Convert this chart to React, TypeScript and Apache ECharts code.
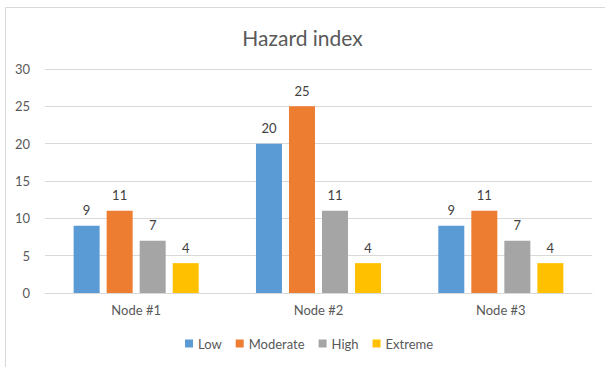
import React, { useEffect, useRef } from "react";
import * as echarts from "echarts";

const categories = ["Node #1", "Node #2", "Node #3"];
const seriesNames = ["Low", "Moderate", "High", "Extreme"];
const lowValues = [9, 20, 9];
const moderateValues = [11, 25, 11];
const highValues = [7, 11, 7];
const extremeValues = [4, 4, 4];
const colors = ["#5B9BD5", "#ED7D31", "#A5A5A5", "#FFC000"];
const yTicks = { min: 0, max: 30, interval: 5 };

export default function App() {
  const ref = useRef<HTMLDivElement>(null);
  useEffect(() => {
    if (!ref.current) return;
    const chart = echarts.init(ref.current, null, { renderer: "svg" });
    const values = [lowValues, moderateValues, highValues, extremeValues];
    const font = "Lato, 'Open Sans', sans-serif";
    chart.setOption({
      animation: false,
      backgroundColor: "#ffffff",
      textStyle: { fontFamily: font },
      title: {
        text: "Hazard index",
        left: "center",
        top: 22,
        textStyle: { fontSize: 21, fontWeight: "normal", color: "#595959", fontFamily: font },
      },
      graphic: [
        {
          type: "rect",
          shape: { x: 5.5, y: 7.5, width: 700, height: 500 },
          style: { fill: "none", stroke: "#d9d9d9", lineWidth: 1 },
          silent: true,
        },
      ],
      legend: {
        bottom: 12,
        left: 180,
        itemWidth: 8,
        itemHeight: 8,
        itemGap: 14,
        icon: "rect",
        textStyle: { fontSize: 13, color: "#595959", fontFamily: font },
        data: seriesNames,
      },
      grid: { left: 45, right: 13, top: 69, bottom: 74 },
      xAxis: {
        type: "category",
        data: categories,
        axisLine: { lineStyle: { color: "#d9d9d9" } },
        axisTick: { show: false },
        axisLabel: { color: "#595959", fontSize: 13, margin: 10, fontFamily: font },
      },
      yAxis: {
        type: "value",
        min: yTicks.min,
        max: yTicks.max,
        interval: yTicks.interval,
        axisLine: { show: false },
        axisTick: { show: false },
        axisLabel: { color: "#595959", fontSize: 13, margin: 15, fontFamily: font },
        splitLine: { lineStyle: { color: "#d9d9d9" } },
      },
      series: seriesNames.map((name, i) => ({
        name,
        type: "bar",
        data: values[i],
        barWidth: 26,
        barGap: "27%",
        itemStyle: { color: colors[i] },
        label: {
          show: true,
          position: "top",
          distance: 9,
          color: "#404040",
          fontSize: 13,
          fontFamily: font,
        },
      })),
    });
    return () => chart.dispose();
  }, []);
  return (
    <div
      ref={ref}
      style={{ position: "fixed", left: 0, top: 0, width: 605, height: 367 }}
    />
  );
}
